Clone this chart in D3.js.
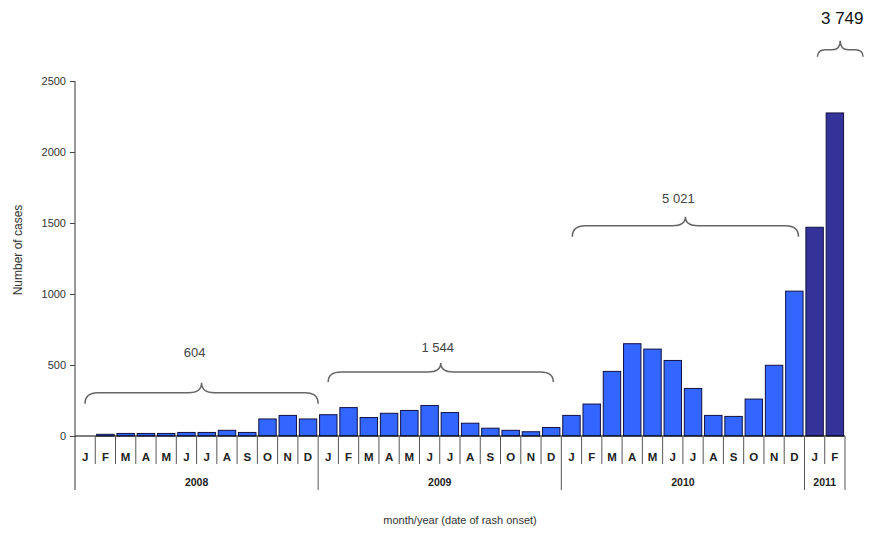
<!DOCTYPE html>
<html lang="en">
<head>
<meta charset="UTF-8" />
<title>Measles cases by month</title>
<script src="https://cdn.jsdelivr.net/npm/d3@7"></script>
<style>
  body { margin: 0; background: #fff; }
  text { font-family: "Liberation Sans", Arial, sans-serif; }
</style>
</head>
<body>
<script>
// data
const months = ["J","F","M","A","M","J","J","A","S","O","N","D"];
const years = ["2008", "2009", "2010", "2011"];
const cases2008 = [0, 12, 18, 18, 18, 25, 25, 40, 25, 120, 145, 120];
const cases2009 = [150, 200, 130, 160, 180, 215, 165, 90, 55, 40, 30, 60];
const cases2010 = [145, 225, 455, 650, 612, 532, 335, 145, 138, 260, 498, 1020];
const cases2011 = [1470, 2275];
const yTicks = [0, 500, 1000, 1500, 2000, 2500];
const totals = ["604", "1 544", "5 021", "3 749"];

const w = 875, h = 539;
const xLeft = 75, xRight = 845, yTop = 81, base = 436;

const allCases = [cases2008, cases2009, cases2010, cases2011];
let rows = [];
allCases.forEach((arr, yi) => {
    arr.forEach((v, mi) => rows.push({ year: years[yi], month: months[mi], value: v, dark: yi == 3 }));
});
rows.forEach((d, i) => d.i = i);

let svg = d3.select("body").append("svg")
    .attr("width", w)
    .attr("height", h);

let y = d3.scaleLinear().domain([0, 2500]).range([base, yTop]);
let cell = d3.scaleBand().domain(rows.map(d => d.i)).range([xLeft, xRight]).padding(0);
let bw = cell.bandwidth();

// y axis
let yAxis = d3.axisLeft(y).tickValues(yTicks).tickFormat(d3.format("d")).tickSize(5).tickPadding(4);
let ga = svg.append("g").attr("transform", `translate(${xLeft},0)`).call(yAxis);
ga.select(".domain").remove();
ga.selectAll("line").attr("stroke", "#444");
ga.selectAll("text").attr("font-size", 11).attr("fill", "#333");

svg.append("line")
    .attr("x1", xLeft).attr("x2", xLeft)
    .attr("y1", yTop).attr("y2", 490)
    .attr("stroke", "#555").attr("stroke-width", 1.2);

// bars
svg.selectAll(".bar")
    .data(rows)
    .enter().append("rect")
    .attr("class", "bar")
    .attr("x", d => cell(d.i) + bw * 0.07)
    .attr("width", bw * 0.86)
    .attr("y", d => y(d.value))
    .attr("height", d => base - y(d.value))
    .attr("fill", d => d.dark ? "#333399" : "#3366ff")
    .attr("stroke", "#111144")
    .attr("stroke-width", 1)
    .attr("display", d => d.value > 0 ? null : "none");

// baseline
svg.append("line")
    .attr("x1", xLeft).attr("x2", xRight)
    .attr("y1", base).attr("y2", base)
    .attr("stroke", "#000").attr("stroke-width", 1.2);

// month separators
svg.selectAll(".sep")
    .data(rows.slice(1))
    .enter().append("line")
    .attr("class", "sep")
    .attr("x1", d => cell(d.i)).attr("x2", d => cell(d.i))
    .attr("y1", base)
    .attr("y2", d => d.i % 12 == 0 ? 490 : 464)
    .attr("stroke", "#555").attr("stroke-width", 1);

svg.append("line")
    .attr("x1", xRight).attr("x2", xRight)
    .attr("y1", base).attr("y2", 490)
    .attr("stroke", "#555").attr("stroke-width", 1);

// month labels
svg.selectAll(".mlab")
    .data(rows)
    .enter().append("text")
    .attr("class", "mlab")
    .attr("x", d => cell(d.i) + bw / 2)
    .attr("y", 461)
    .attr("text-anchor", "middle")
    .attr("font-size", 11.5)
    .attr("font-weight", "bold")
    .attr("fill", "#222")
    .text(d => d.month);

// year labels
years.forEach((yr, yi) => {
    let first = yi * 12;
    let last = Math.min(first + 11, rows.length - 1);
    let cx = (cell(first) + cell(last) + bw) / 2;
    svg.append("text")
        .attr("x", cx).attr("y", 486)
        .attr("text-anchor", "middle")
        .attr("font-size", 10.5)
        .attr("font-weight", "bold")
        .attr("fill", "#222")
        .text(yr);
});

// braces over each year
function brace(x1, x2, yArm, drop, rise, r) {
    let cx = (x1 + x2) / 2;
    return `M${x1},${yArm + drop} Q${x1},${yArm} ${x1 + r},${yArm} L${cx - r},${yArm} ` +
        `Q${cx},${yArm} ${cx},${yArm - rise} Q${cx},${yArm} ${cx + r},${yArm} ` +
        `L${x2 - r},${yArm} Q${x2},${yArm} ${x2},${yArm + drop}`;
}

const braceCells = [
    { a: 0, b: 11, dl: 10, dr: 0, arm: 305, drop: 11, rise: 10, r: 13, gap: 26, dx: -7 },
    { a: 12, b: 23, dl: 10, dr: -8, arm: 450, drop: 10, rise: 9, r: 13, gap: 11, dx: -3 },
    { a: 24, b: 35, dl: 11, dr: -6, arm: 1480, drop: 11, rise: 9, r: 13, gap: 14, dx: -7 },
    { a: 36, b: 37, dl: 13, dr: 18, arm: 2720, drop: 7, rise: 9, r: 8, gap: 17, dx: 2 }
];

braceCells.forEach((b, k) => {
    let x1 = cell(b.a) + b.dl;
    let x2 = cell(b.b) + bw + b.dr;
    let ya = y(b.arm);
    svg.append("path")
        .attr("d", brace(x1, x2, ya, b.drop, b.rise, b.r))
        .attr("fill", "none")
        .attr("stroke", "#666")
        .attr("stroke-width", 1.5);
    let big = k == 3;
    svg.append("text")
        .attr("x", (x1 + x2) / 2 + b.dx)
        .attr("y", ya - b.rise - b.gap)
        .attr("text-anchor", "middle")
        .attr("font-size", big ? 17 : 13)
        .attr("fill", big ? "#111" : "#444")
        .text(totals[k]);
});

// axis titles
svg.append("text")
    .attr("transform", "translate(22,250) rotate(-90)")
    .attr("text-anchor", "middle")
    .attr("font-size", 12)
    .attr("fill", "#333")
    .text("Number of cases");

svg.append("text")
    .attr("x", 460).attr("y", 524)
    .attr("text-anchor", "middle")
    .attr("font-size", 11)
    .attr("fill", "#333")
    .text("month/year (date of rash onset)");
</script>
</body>
</html>
